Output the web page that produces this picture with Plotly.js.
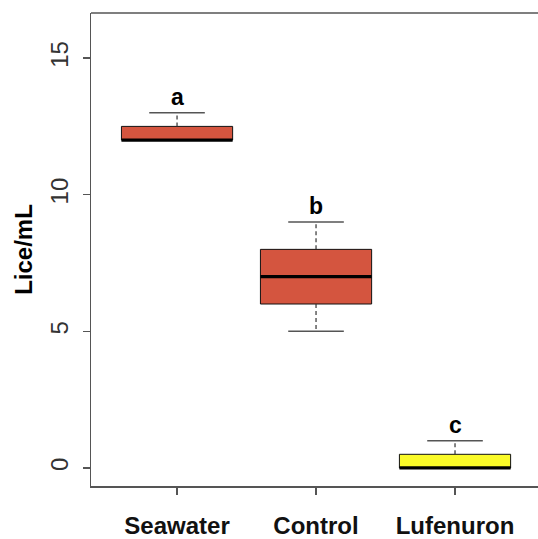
<!DOCTYPE html>
<html>
<head>
<meta charset="utf-8">
<script src="https://cdn.plot.ly/plotly-3.0.1.min.js"></script>
<style>html,body{margin:0;padding:0;background:#fff;}#chart{width:538px;height:539px;}</style>
</head>
<body>
<div id="chart"></div>
<script>
const categories = ["Seawater", "Control", "Lufenuron"];
const lowerWhisker = [12, 5, 0];
const q1 = [12, 6, 0];
const median = [12, 7, 0];
const q3 = [12.5, 8, 0.5];
const upperWhisker = [13, 9, 1];
const letters = ["a", "b", "c"];
const boxColors = ["#D4553F", "#D4553F", "#FAFA28"];
const yTicks = [0, 5, 10, 15];

const pos = categories.map((c, i) => i + 1);
const halfBox = 0.4, halfCap = 0.2;

const medX = [], medY = [], whX = [], whY = [], capX = [], capY = [];
pos.forEach((p, i) => {
  medX.push(p - halfBox, p + halfBox, null); medY.push(median[i], median[i], null);
  whX.push(p, p, null, p, p, null); whY.push(q3[i], upperWhisker[i], null, q1[i], lowerWhisker[i], null);
  capX.push(p - halfCap, p + halfCap, null, p - halfCap, p + halfCap, null);
  capY.push(upperWhisker[i], upperWhisker[i], null, lowerWhisker[i], lowerWhisker[i], null);
});

const traces = [
  {type: "bar", x: pos, base: q1, y: q3.map((v, i) => v - q1[i]), width: 0.8,
   marker: {color: boxColors, line: {color: "#111", width: 1}}, hoverinfo: "skip"},
  {type: "scatter", mode: "lines", x: whX, y: whY, line: {color: "#333", width: 1.2, dash: "4px,3px"}, hoverinfo: "skip"},
  {type: "scatter", mode: "lines", x: capX, y: capY, line: {color: "#555", width: 1.5}, hoverinfo: "skip"},
  {type: "scatter", mode: "lines", x: medX, y: medY, line: {color: "#000", width: 3.2}, hoverinfo: "skip"}
];

const font = "'Liberation Sans', Arial, Helvetica, sans-serif";
const layout = {
  width: 538, height: 539,
  margin: {l: 91, r: 0, t: 13, b: 53},
  showlegend: false,
  paper_bgcolor: "#fff", plot_bgcolor: "#fff",
  font: {family: font, color: "#222"},
  xaxis: {
    range: [0.381, 3.597], tickvals: pos, ticktext: categories,
    showgrid: false, zeroline: false, showline: true, linecolor: "#555", linewidth: 1.5,
    ticks: "outside", ticklen: 7, tickcolor: "#555", tickwidth: 1.5,
    tickfont: {size: 24, family: font, color: "#111", weight: "bold"},
    ticklabelstandoff: 11
  },
  yaxis: {
    range: [-0.66, 16.65], tickvals: yTicks,
    showgrid: false, zeroline: false, showline: true, linecolor: "#555", linewidth: 1.5,
    ticks: "outside", ticklen: 7, tickcolor: "#555", tickwidth: 1.5,
    tickangle: -90, tickfont: {size: 24, family: font, color: "#333"},
    ticklabelstandoff: 5,
    title: {text: "Lice/mL", font: {size: 24, family: font, color: "#000", weight: "bold"}, standoff: 6}
  },
  shapes: [
    {type: "line", xref: "paper", yref: "paper", x0: 0, x1: 1, y0: 1, y1: 1, line: {color: "#555", width: 1.5}}
  ],
  annotations: pos.map((p, i) => ({
    x: p, y: upperWhisker[i], yshift: 16, text: letters[i], showarrow: false,
    font: {size: 23, family: font, color: "#000", weight: "bold"}, yanchor: "middle"
  }))
};

Plotly.newPlot("chart", traces, layout, {displayModeBar: false, staticPlot: true});
</script>
</body>
</html>
